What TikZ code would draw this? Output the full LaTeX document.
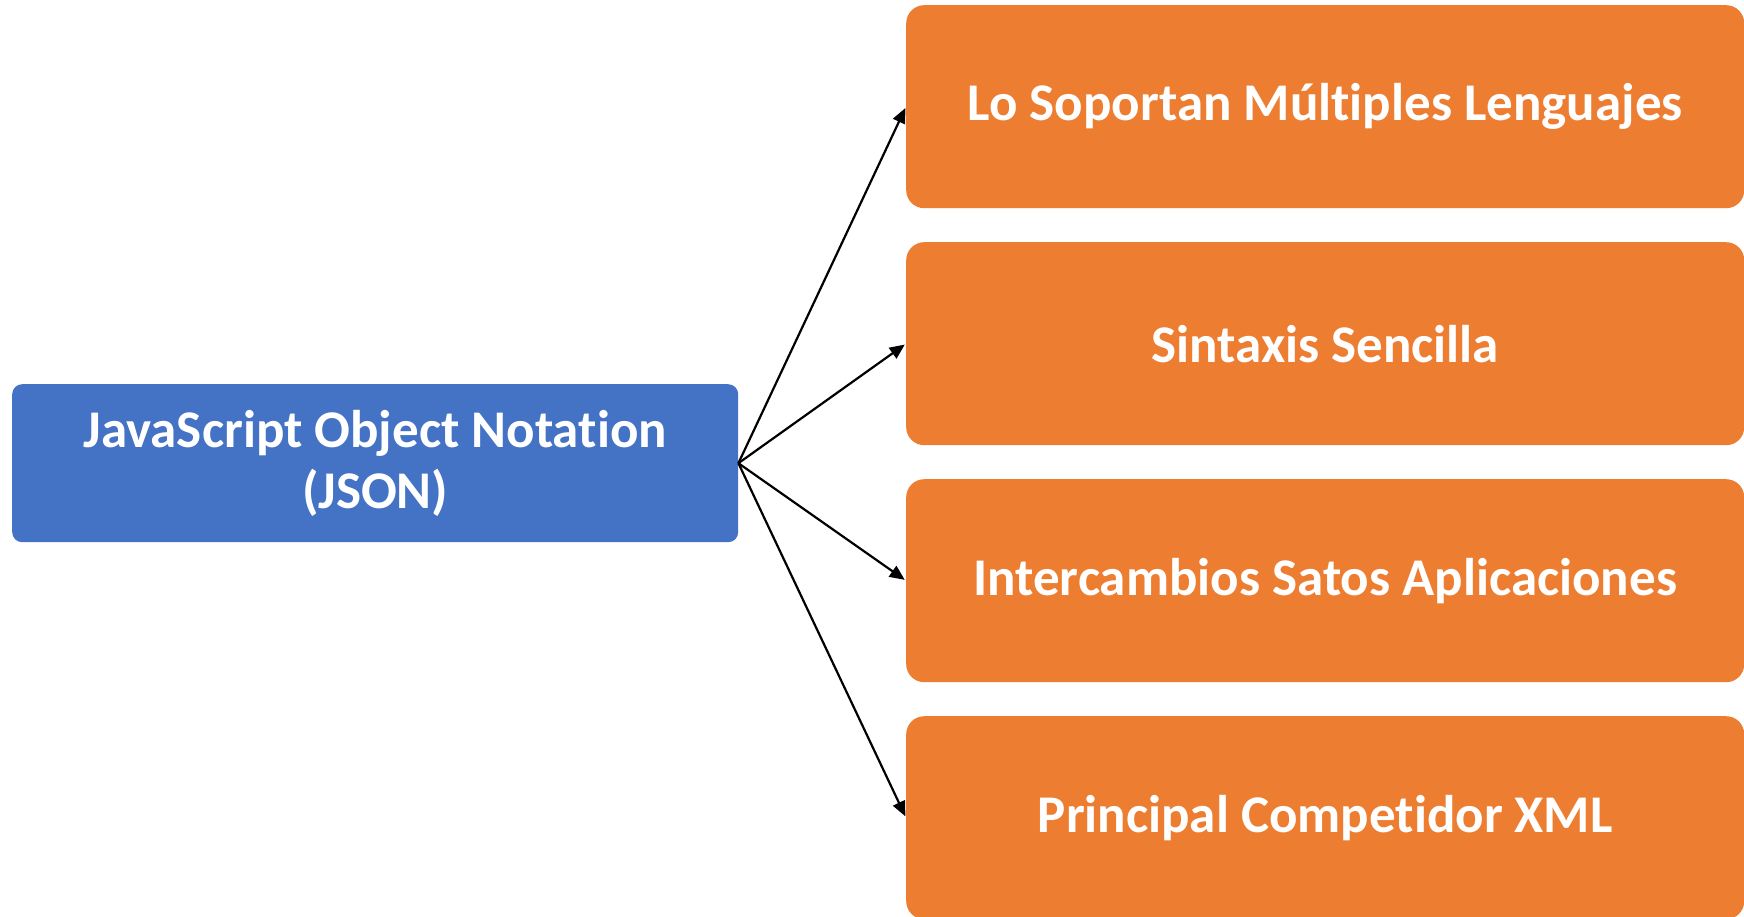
\documentclass[tikz,border=0pt]{standalone}
\usepackage{fontspec}
\setmainfont{Carlito}[Ligatures=NoCommon]
\usetikzlibrary{arrows.meta}
\definecolor{jblue}{HTML}{4472C4}
\definecolor{jorange}{HTML}{ED7D31}
\tikzset{
  box/.style={rectangle, anchor=north west, inner sep=0pt, text=white,
    font=\fontsize{53}{61}\selectfont\bfseries, align=center},
  bluebox/.style={box, fill=jblue, rounded corners=10pt, minimum width=726pt, minimum height=158pt},
  orangebox/.style={box, fill=jorange, rounded corners=18pt, minimum width=838pt, minimum height=203pt},
  conn/.style={draw=black, line width=2.2pt, -{Triangle[length=15pt,width=13pt]}, shorten >=1.5pt}
}
\begin{document}
\begin{tikzpicture}[x=1pt,y=1pt]
\useasboundingbox (0,0) rectangle (1744,-917);
\node[bluebox] (json) at (12,-384) {JavaScript Object Notation\\(JSON)};
\node[orangebox] (a) at (906,-5) {Lo Soportan Múltiples Lenguajes};
\node[orangebox] (b) at (906,-242) {Sintaxis Sencilla};
\node[orangebox] (c) at (906,-479) {Intercambios Satos Aplicaciones};
\node[orangebox] (d) at (906,-716) {Principal Competidor XML};
\foreach \t in {a,b,c,d} \draw[conn] (json.east) -- (\t.west);
\end{tikzpicture}
\end{document}
